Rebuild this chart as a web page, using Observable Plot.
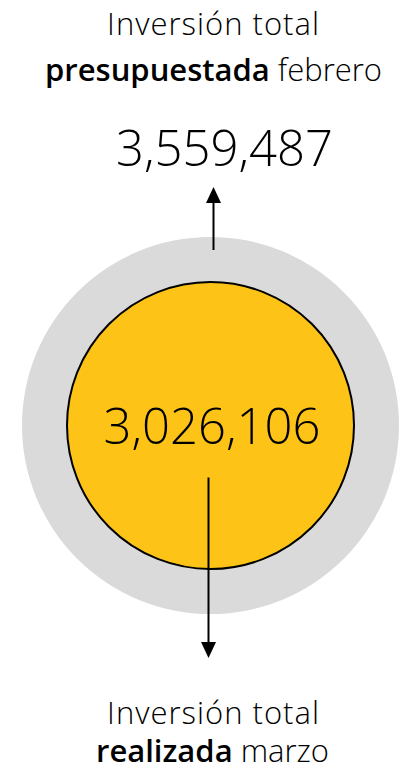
<!DOCTYPE html>
<html>
<head>
<meta charset="utf-8">
<script src="https://cdn.jsdelivr.net/npm/d3@7"></script>
<script src="https://cdn.jsdelivr.net/npm/@observablehq/plot@0.6"></script>
<style>
  html, body { margin: 0; padding: 0; background: #ffffff; }
  svg { display: block; }
</style>
</head>
<body>
<div id="chart"></div>
<script>
// ---- data ----
const names = ["presupuestada", "realizada"];
const months = ["febrero", "marzo"];
const values = [3559487, 3026106];
const headline = "Inversión total";

// ---- layout ----
const W = 413, H = 771, cx = 210, cy = 425;
const font = "'Open Sans', 'Noto Sans', sans-serif";
const labelSize = 31, numberSize = 49;
const rRange = [143.5, 188.5];
const rOuter = rRange[1];

const circles = names.map((n, i) => ({name: n, month: months[i], value: values[i]}));
const outer = circles.filter(d => d.name === "presupuestada");
const inner = circles.filter(d => d.name === "realizada");
const fmt = d3.format(",");

const upHead = { draw(ctx) { ctx.moveTo(0, -8); ctx.lineTo(7.5, 8); ctx.lineTo(-7.5, 8); ctx.closePath(); } };
const downHead = { draw(ctx) { ctx.moveTo(0, 8); ctx.lineTo(7.5, -8); ctx.lineTo(-7.5, -8); ctx.closePath(); } };

const textStyle = {lineAnchor: "bottom", fontFamily: font, fontWeight: 300, fill: "#000"};

const chart = Plot.plot({
  width: W,
  height: H,
  margin: 0,
  x: {domain: [-cx, W - cx], range: [0, W], axis: null},
  y: {domain: [-cy, H - cy], range: [0, H], axis: null},
  r: {type: "linear", domain: [values[1], values[0]], range: rRange},
  marks: [
    Plot.dot(outer, {x: 0, y: 0, r: "value", fill: "#dadada", stroke: "none"}),
    Plot.dot(inner, {x: 0, y: 0, r: "value", fill: "#fdc417", stroke: "#000000", strokeWidth: 2}),
    // top arrow
    Plot.link([0], {x1: 3, x2: 3, y1: -(rOuter - 13), y2: -(rOuter + 34), stroke: "#000", strokeWidth: 2}),
    Plot.dot([0], {x: 3, y: -(rOuter + 42), symbol: upHead, r: 6, fill: "#000", stroke: "none"}),
    // bottom arrow
    Plot.link([0], {x1: -2, x2: -2, y1: 52, y2: rOuter + 28, stroke: "#000", strokeWidth: 2}),
    Plot.dot([0], {x: -2, y: rOuter + 36, symbol: downHead, r: 6, fill: "#000", stroke: "none"}),
    // numbers
    Plot.text(outer, {...textStyle, x: 14, y: -(rOuter + 71.5), text: d => fmt(d.value), fontSize: numberSize}),
    Plot.text(inner, {...textStyle, x: 1.5, y: 18, text: d => fmt(d.value), fontSize: numberSize}),
    // top label
    Plot.text(outer, {...textStyle, x: 3, y: -391, text: () => headline, fontSize: labelSize}),
    Plot.text(outer, {...textStyle, x: 3, y: -345, text: d => `${d.name} ${d.month}`, fontSize: labelSize}),
    // bottom label
    Plot.text(inner, {...textStyle, x: 3, y: 298, text: () => headline, fontSize: labelSize}),
    Plot.text(inner, {...textStyle, x: 2, y: 336, text: d => `${d.name} ${d.month}`, fontSize: labelSize})
  ]
});

// styling of label lines: wider tracking on the headline, bold first word on the second line
const ns = "http://www.w3.org/2000/svg";
chart.querySelectorAll("text").forEach(t => {
  if (t.textContent === headline) t.setAttribute("letter-spacing", "1");
  circles.forEach(d => {
    if (t.textContent === `${d.name} ${d.month}`) {
      t.textContent = "";
      const b = document.createElementNS(ns, "tspan");
      b.setAttribute("font-weight", "600");
      b.textContent = d.name;
      t.appendChild(b);
      t.appendChild(document.createTextNode(" " + d.month));
    }
  });
});

document.getElementById("chart").appendChild(chart);
</script>
</body>
</html>
